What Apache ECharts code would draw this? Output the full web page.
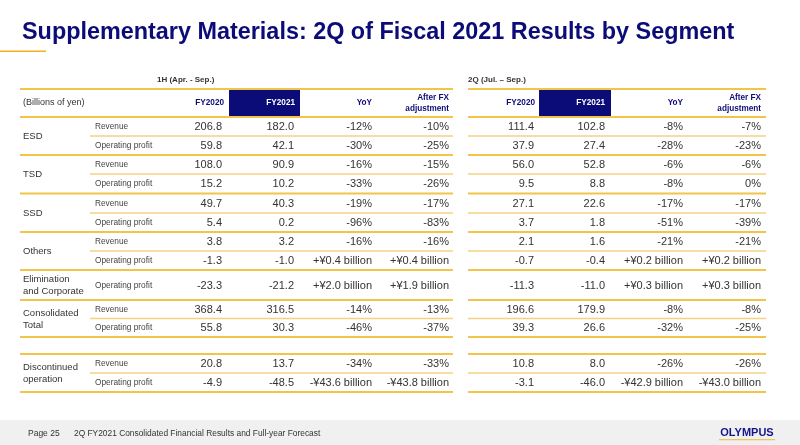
<!DOCTYPE html>
<html><head><meta charset="utf-8">
<script src="https://cdn.jsdelivr.net/npm/echarts@6/dist/echarts.min.js"></script>
<style>html,body{margin:0;padding:0;background:#fff}#c{width:800px;height:445px}</style>
</head><body><div id="c"></div><script>
// ---------- DATA ----------
const titleText = 'Supplementary Materials: 2Q of Fiscal 2021 Results by Segment';
const footerPage = 'Page 25';
const footerText = '2Q FY2021 Consolidated Financial Results and Full-year Forecast';
const unitLabel = '(Billions of yen)';
const periods = ['1H (Apr. - Sep.)', '2Q (Jul. \u2013 Sep.)'];
const headers = ['FY2020', 'FY2021', 'YoY', 'After FX\nadjustment'];
const groups = ['ESD', 'TSD', 'SSD', 'Others', 'Elimination\nand Corporate', 'Consolidated\nTotal', 'Discontinued\noperation'];
const groupRows = [[0, 1], [2, 3], [4, 5], [6, 7], [8], [9, 10], [11, 12]];
const items = ['Revenue', 'Operating profit', 'Revenue', 'Operating profit', 'Revenue', 'Operating profit',
  'Revenue', 'Operating profit', 'Operating profit', 'Revenue', 'Operating profit', 'Revenue', 'Operating profit'];
const h1FY2020 = [206.8, 59.8, 108.0, 15.2, 49.7, 5.4, 3.8, -1.3, -23.3, 368.4, 55.8, 20.8, -4.9];
const h1FY2021 = [182.0, 42.1, 90.9, 10.2, 40.3, 0.2, 3.2, -1.0, -21.2, 316.5, 30.3, 13.7, -48.5];
const h1YoY = ['-12%', '-30%', '-16%', '-33%', '-19%', '-96%', '-16%', '+\u00a50.4 billion', '+\u00a52.0 billion', '-14%', '-46%', '-34%', '-\u00a543.6 billion'];
const h1FX = ['-10%', '-25%', '-15%', '-26%', '-17%', '-83%', '-16%', '+\u00a50.4 billion', '+\u00a51.9 billion', '-13%', '-37%', '-33%', '-\u00a543.8 billion'];
const q2FY2020 = [111.4, 37.9, 56.0, 9.5, 27.1, 3.7, 2.1, -0.7, -11.3, 196.6, 39.3, 10.8, -3.1];
const q2FY2021 = [102.8, 27.4, 52.8, 8.8, 22.6, 1.8, 1.6, -0.4, -11.0, 179.9, 26.6, 8.0, -46.0];
const q2YoY = ['-8%', '-28%', '-6%', '-8%', '-17%', '-51%', '-21%', '+\u00a50.2 billion', '+\u00a50.3 billion', '-8%', '-32%', '-26%', '-\u00a542.9 billion'];
const q2FX = ['-7%', '-23%', '-6%', '0%', '-17%', '-39%', '-21%', '+\u00a50.2 billion', '+\u00a50.3 billion', '-8%', '-25%', '-26%', '-\u00a543.0 billion'];

// ---------- LAYOUT (table units) ----------
const FONT = '"Liberation Sans", Arial, sans-serif';
const NAVY = '#0c0c78';
const rowTops = [28, 47, 66, 85, 104.5, 124, 143, 162, 181, 211, 229.5, 265, 284];
const rowBottoms = [47, 66, 85, 104.5, 124, 143, 162, 181, 211, 229.5, 248, 284, 303];
const tables = [
  { x0: 0, x1: 433, sub0: 70, periodX: 137, cols: [202, 274, 352, 429], hcols: [204, 275, 352, 429], box: [209, 280],
    vals: [h1FY2020, h1FY2021, h1YoY, h1FX] },
  { x0: 448, x1: 746, sub0: 448, periodX: 448, cols: [514, 585, 663, 741], hcols: [515, 585, 663, 741], box: [519, 591],
    vals: [q2FY2020, q2FY2021, q2YoY, q2FX] }
];

const fmt = v => typeof v === 'number' ? v.toFixed(1) : v;
const cells = [];
const lines = [];
const boxes = [];
cells.push({ x: 3, y: 14, text: unitLabel, k: 'unit' });
tables.forEach((t, ti) => {
  cells.push({ x: t.periodX, y: -9, text: periods[ti], k: 'period' });
  boxes.push([t.box[0], t.box[1], 0, 28]);
  headers.forEach((h, i) => cells.push({ x: t.hcols[i], y: 14, text: h, k: i === 1 ? 'hdrW' : 'hdr' }));
  items.forEach((it, r) => {
    const yc = (rowTops[r] + rowBottoms[r]) / 2 + 0.5;
    t.vals.forEach((arr, i) => cells.push({ x: t.cols[i], y: yc, text: fmt(arr[r]), k: 'val' }));
  });
  lines.push([t.x0, t.x1, 0, 'g']);
  lines.push([t.x0, t.x1, 28, 'g']);
  lines.push([t.x0, t.x1, 265, 'g']);
});
items.forEach((it, r) => {
  const yc = (rowTops[r] + rowBottoms[r]) / 2 + 0.3;
  cells.push({ x: 75, y: yc, text: it, k: 'item' });
});
groups.forEach((g, gi) => {
  const rs = groupRows[gi];
  const yc = (rowTops[rs[0]] + rowBottoms[rs[rs.length - 1]]) / 2 + 0.5;
  cells.push({ x: 3, y: yc, text: g, k: 'group' });
  rs.forEach((r, j) => {
    const last = j === rs.length - 1;
    tables.forEach(t => lines.push([last ? t.x0 : t.sub0, t.x1, rowBottoms[r], last ? 'g' : 's']));
  });
});

const styles = {
  unit: { fontSize: 9, fill: '#333', align: 'left' },
  period: { fontSize: 8, fontWeight: 'bold', fill: '#333', align: 'left' },
  hdr: { fontSize: 8.2, fontWeight: 'bold', fill: NAVY, align: 'right', lineHeight: 10.5 },
  hdrW: { fontSize: 8.2, fontWeight: 'bold', fill: '#fff', align: 'right' },
  val: { fontSize: 11, fill: '#333', align: 'right' },
  item: { fontSize: 8.3, fill: '#444', align: 'left' },
  group: { fontSize: 9.5, fill: '#333', align: 'left', lineHeight: 12 }
};

const chart = echarts.init(document.getElementById('c'), null, { renderer: 'canvas' });
chart.setOption({
  animation: false,
  backgroundColor: '#fff',
  grid: { left: 20, top: 89, width: 746, height: 303 },
  xAxis: { type: 'value', min: 0, max: 746, show: false },
  yAxis: { type: 'value', min: 0, max: 303, inverse: true, show: false },
  graphic: [
    { type: 'text', left: 22, top: 21, style: { text: titleText, font: 'bold 23.4px ' + FONT, fill: NAVY } },
    { type: 'rect', shape: { x: 0, y: 50.5, width: 46, height: 1.5 }, style: { fill: '#f0b21e' } },
    { type: 'rect', shape: { x: 0, y: 420, width: 800, height: 25 }, style: { fill: '#f0f0f0' }, z: -1 },
    { type: 'text', x: 28, y: 434, style: { text: footerPage, font: '8.5px ' + FONT, fill: '#333', verticalAlign: 'middle' } },
    { type: 'text', x: 74, y: 434, style: { text: footerText, font: '8.4px ' + FONT, fill: '#333', verticalAlign: 'middle' } },
    { type: 'text', x: 747, y: 433, style: { text: 'OLYMPUS', font: 'bold 11px ' + FONT, fill: '#14148c', align: 'center', verticalAlign: 'middle' } },
    { type: 'rect', shape: { x: 719, y: 439, width: 56, height: 1.2 }, style: { fill: '#e8c860' } }
  ],
  series: [
    {
      type: 'custom', name: 'boxes', z: 1,
      data: boxes,
      renderItem: (p, api) => {
        const a = api.coord([api.value(0), api.value(2)]);
        const b = api.coord([api.value(1), api.value(3)]);
        return { type: 'rect', shape: { x: a[0], y: a[1], width: b[0] - a[0], height: b[1] - a[1] }, style: { fill: NAVY } };
      }
    },
    {
      type: 'custom', name: 'lines', z: 2,
      data: lines.map(l => [l[0], l[1], l[2]]),
      renderItem: (p, api) => {
        const kind = lines[p.dataIndex][3];
        const a = api.coord([api.value(0), api.value(2)]);
        const b = api.coord([api.value(1), api.value(2)]);
        return { type: 'line', shape: { x1: a[0], y1: a[1], x2: b[0], y2: b[1] },
          style: { stroke: kind === 'g' ? '#f2c44a' : '#f5d283', lineWidth: kind === 'g' ? 2 : 1.5 } };
      }
    },
    {
      type: 'custom', name: 'cells', z: 3,
      data: cells.map(c => [c.x, c.y]),
      renderItem: (p, api) => {
        const c = cells[p.dataIndex];
        const s = styles[c.k];
        const pt = api.coord([api.value(0), api.value(1)]);
        return { type: 'text', x: pt[0], y: pt[1],
          style: { text: c.text, fontSize: s.fontSize, fontWeight: s.fontWeight || 'normal', fontFamily: FONT,
            fill: s.fill, align: s.align, verticalAlign: 'middle', lineHeight: s.lineHeight } };
      }
    }
  ]
});
</script></body></html>
